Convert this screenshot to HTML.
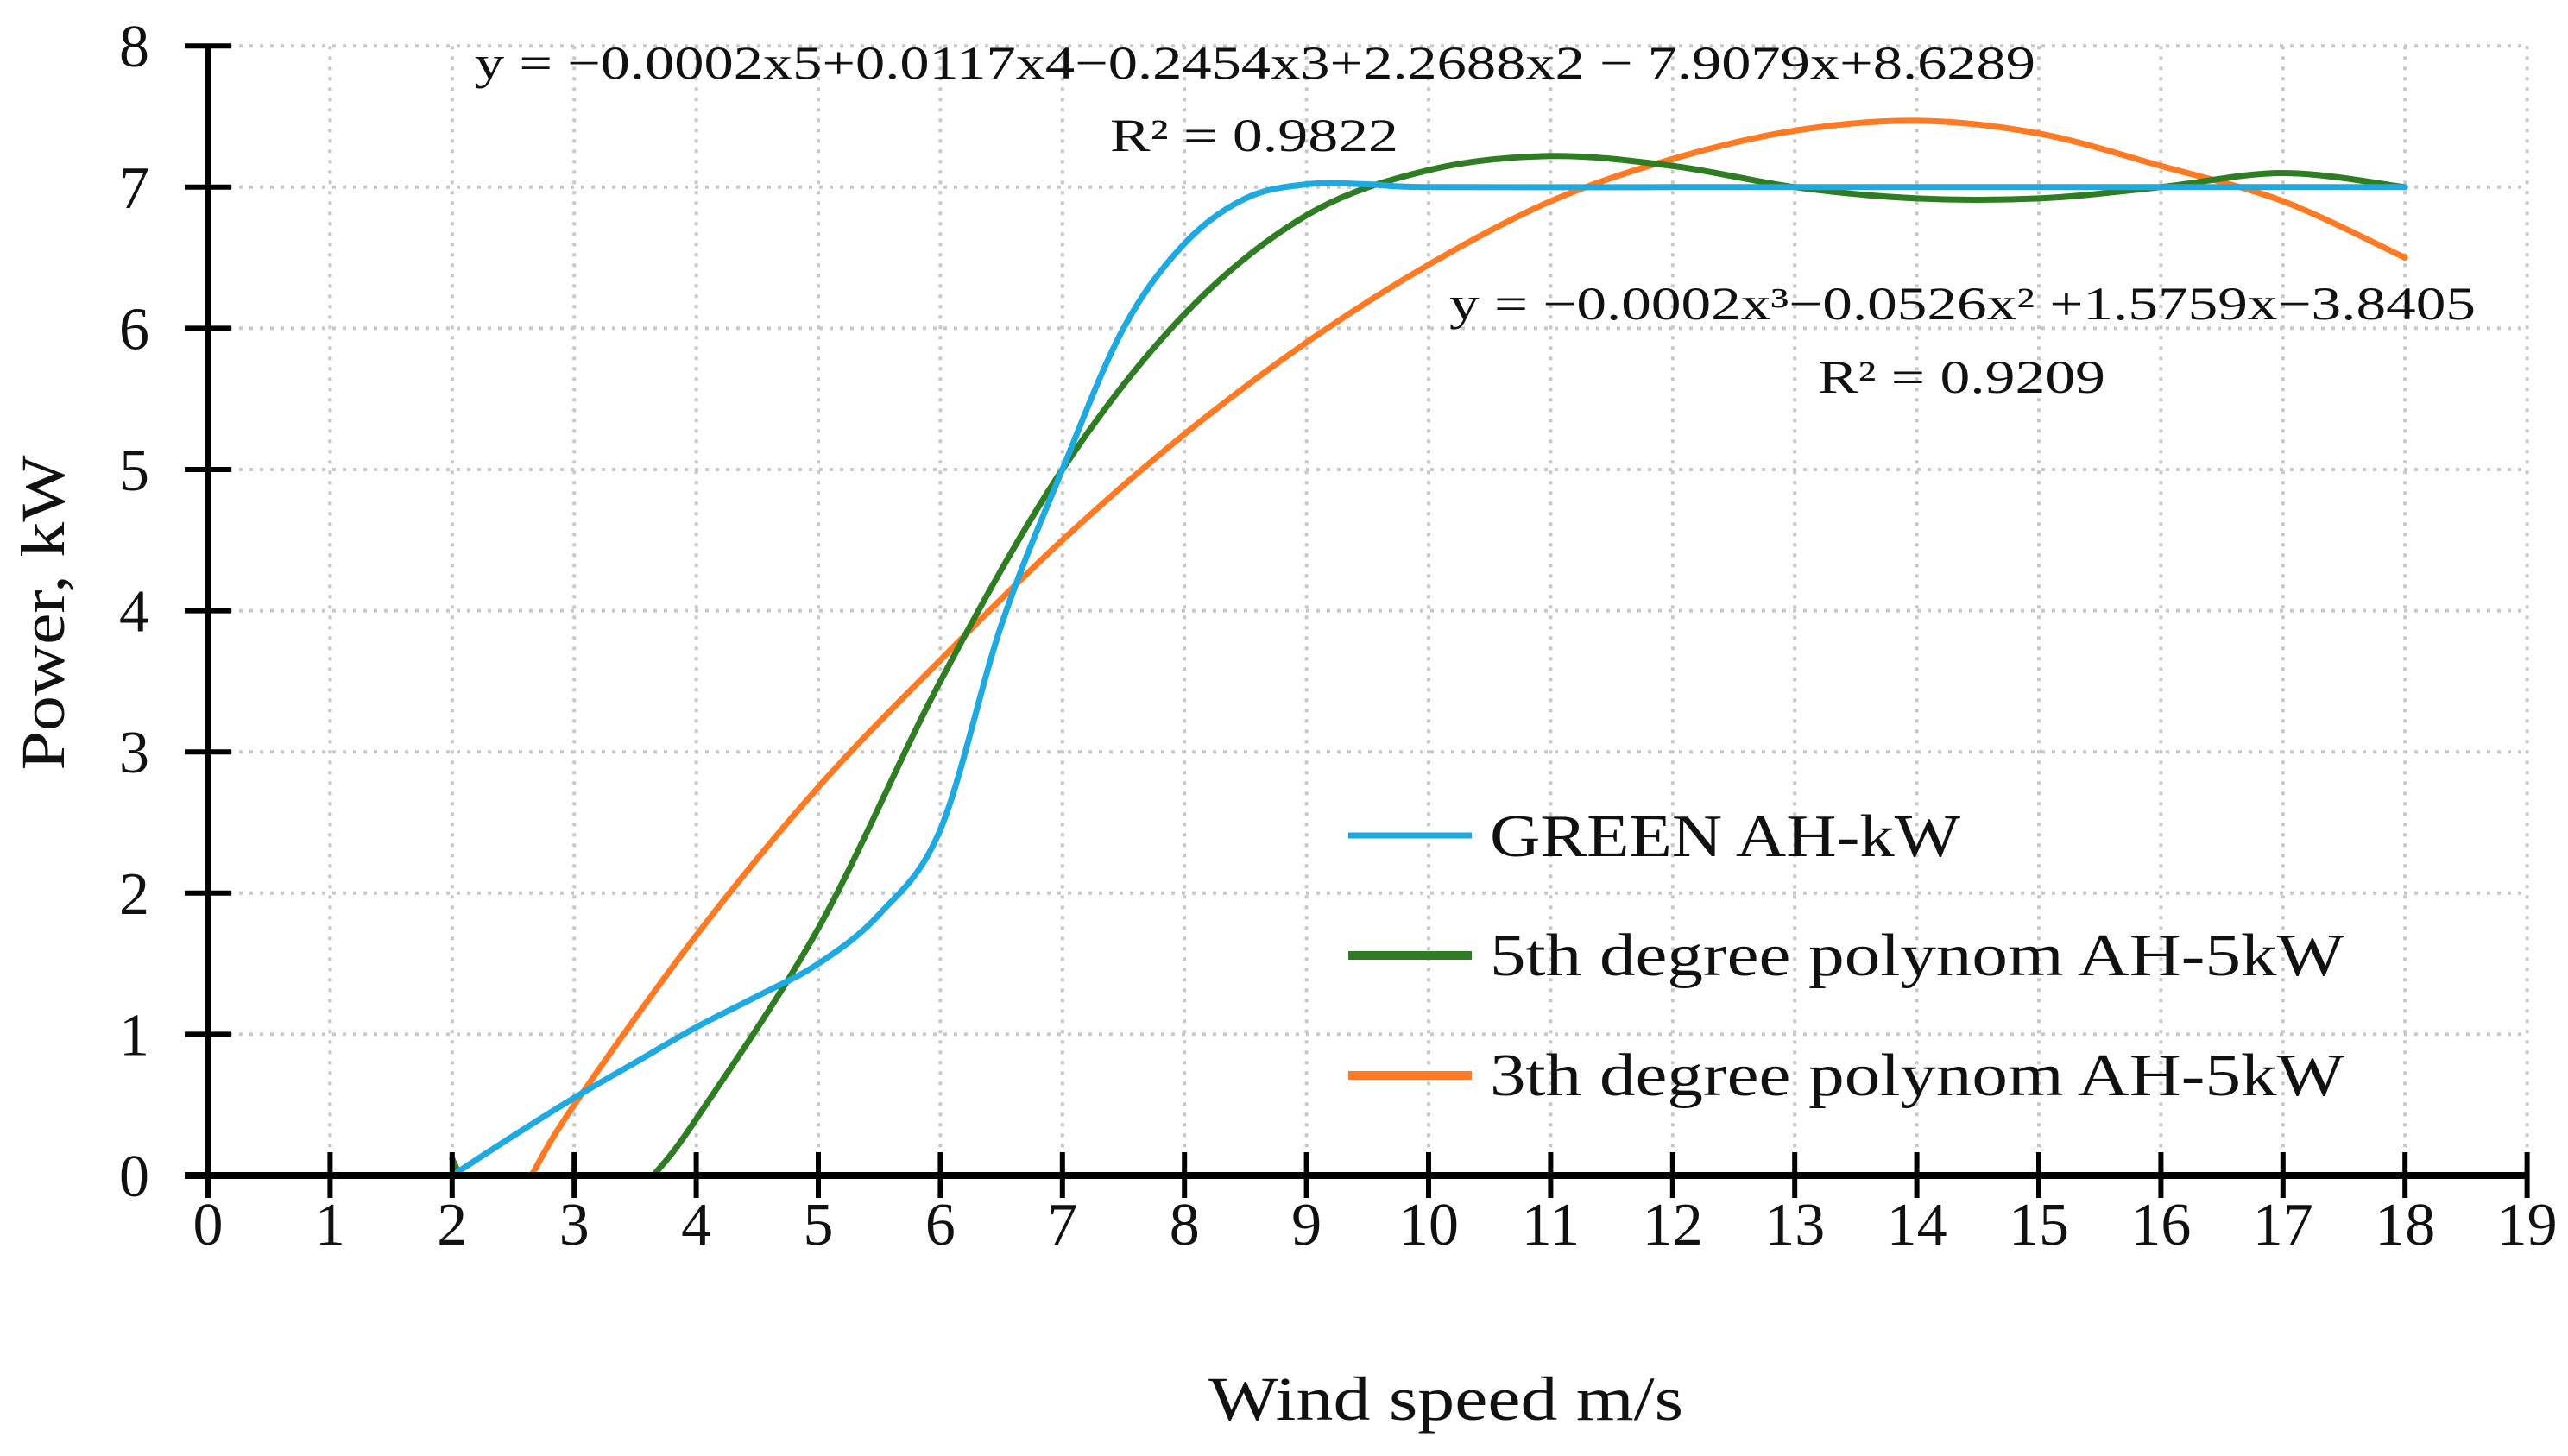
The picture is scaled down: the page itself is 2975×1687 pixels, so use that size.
<!DOCTYPE html>
<html><head><meta charset="utf-8"><style>
html,body{margin:0;padding:0;background:#fff;}
svg{display:block;}
text{font-family:"Liberation Serif",serif;fill:#111;}
</style></head><body>
<svg id="chart" width="2975" height="1687" viewBox="0 0 2975 1687" xmlns="http://www.w3.org/2000/svg">
<g id="grid"></g>
<g id="series"></g>
<g id="axes"></g>
<text x="550" y="91" font-size="54" textLength="1808" lengthAdjust="spacingAndGlyphs">y = −0.0002x5+0.0117x4−0.2454x3+2.2688x2 − 7.9079x+8.6289</text>
<text x="1286" y="175" font-size="54" textLength="334" lengthAdjust="spacingAndGlyphs">R² = 0.9822</text>
<text x="1679" y="370" font-size="54" textLength="1189" lengthAdjust="spacingAndGlyphs">y = −0.0002x³−0.0526x² +1.5759x−3.8405</text>
<text x="2106" y="455" font-size="54" textLength="333" lengthAdjust="spacingAndGlyphs">R² = 0.9209</text>
<text transform="translate(74,710) rotate(-90)" text-anchor="middle" font-size="72" textLength="365" lengthAdjust="spacingAndGlyphs">Power, kW</text>
<text x="1675" y="1645" text-anchor="middle" font-size="72" textLength="550" lengthAdjust="spacingAndGlyphs">Wind speed m/s</text>
<g>
<line x1="1562" y1="968" x2="1705" y2="968" stroke="#1FA9E1" stroke-width="7"/>
<text x="1726" y="992" font-size="70" textLength="545" lengthAdjust="spacingAndGlyphs">GREEN AH-kW</text>
<line x1="1562" y1="1107" x2="1705" y2="1107" stroke="#2E7D22" stroke-width="10"/>
<text x="1726" y="1130" font-size="70" textLength="990" lengthAdjust="spacingAndGlyphs">5th degree polynom AH-5kW</text>
<line x1="1562" y1="1246" x2="1705" y2="1246" stroke="#FF7A22" stroke-width="10"/>
<text x="1726" y="1269" font-size="70" textLength="990" lengthAdjust="spacingAndGlyphs">3th degree polynom AH-5kW</text>
</g>
</svg>
<script>
const xTicks = [0,1,2,3,4,5,6,7,8,9,10,11,12,13,14,15,16,17,18,19];
const yTicks = [0,1,2,3,4,5,6,7,8];
const greenX = [2,2.5,3,3.5,4,4.5,5,5.5,6,6.5,7,7.5,8,8.5,9,9.5,10,12,14,16,18];
const greenY = [0,0.28,0.55,0.8,1.05,1.27,1.5,1.85,2.45,3.9,5.0,6.0,6.6,6.92,7.02,7.02,7.0,7.0,7.0,7.0,7.0];
const poly5X = [3.65,4,5,6,7,8,9,10,11,12,13,14,15,16,17,18];
const poly5Y = [0,0.4,1.75,3.5,5.0,6.1,6.8,7.12,7.22,7.15,7.0,6.92,6.92,7.0,7.1,7.0];
const poly5TailX = [2,2.06];
const poly5TailY = [0.12,0];
const poly3X = [2.65,3,4,5,6,7,8,9,10,11,12,13,14,15,16,17,18];
const poly3Y = [0,0.5,1.7,2.75,3.65,4.5,5.25,5.9,6.45,6.9,7.2,7.4,7.47,7.38,7.15,6.9,6.5];

const X0=241, XU=141.4, Y0=1362, YU=163.6;
const sx = v => X0 + v*XU;
const sy = v => Y0 - v*YU;
const NS="http://www.w3.org/2000/svg";
const grid=document.getElementById('grid'), axes=document.getElementById('axes'), ser=document.getElementById('series');
function mk(tag, attrs, parent){const e=document.createElementNS(NS,tag);for(const k in attrs)e.setAttribute(k,attrs[k]);parent.appendChild(e);return e;}

yTicks.forEach(v=>{
  if(v>0){const g=mk('line',{x1:sx(0),x2:sx(19),y1:sy(v),y2:sy(v),stroke:'#c8c8c8','stroke-width':4,'stroke-dasharray':'4 8'},grid);
  
  }
  const t=mk('line',{x1:sx(0)-27,x2:sx(0)+27,y1:sy(v),y2:sy(v),stroke:'#000','stroke-width':6},axes);
  
  
  const l=mk('text',{x:sx(0)-68,y:sy(v)+24,'text-anchor':'end','font-size':70},axes);
  
  
  l.textContent=v;
});
xTicks.forEach(v=>{
  if(v>0){const g=mk('line',{x1:sx(v),x2:sx(v),y1:sy(8),y2:sy(0),stroke:'#c8c8c8','stroke-width':4,'stroke-dasharray':'4 8'},grid);
  
  }
  const t=mk('line',{x1:sx(v),x2:sx(v),y1:sy(0)-27,y2:sy(0)+26,stroke:'#000','stroke-width':6},axes);
  
  
  const l=mk('text',{x:sx(v),y:1442,'text-anchor':'middle','font-size':70},axes);
  
  
  l.textContent=v;
});
const ya=mk('line',{x1:sx(0),x2:sx(0),y1:sy(8),y2:sy(0),stroke:'#000','stroke-width':6},axes);


const xa=mk('line',{x1:sx(0)-27,x2:sx(19),y1:sy(0),y2:sy(0),stroke:'#000','stroke-width':8},axes);



function smoothPath(xs,ys){
  const p=xs.map((x,i)=>[sx(x),sy(ys[i])]);
  let d='M'+p[0][0]+','+p[0][1];
  for(let i=0;i<p.length-1;i++){
    const a=p[i-1]||p[i], b=p[i], c=p[i+1], e=p[i+2]||c;
    const c1=[b[0]+(c[0]-a[0])/6, b[1]+(c[1]-a[1])/6];
    const c2=[c[0]-(e[0]-b[0])/6, c[1]-(e[1]-b[1])/6];
    d+=' C'+c1[0]+','+c1[1]+' '+c2[0]+','+c2[1]+' '+c[0]+','+c[1];
  }
  return d;
}
const s3=mk('path',{d:smoothPath(poly3X,poly3Y),fill:'none',stroke:'#FF7A22','stroke-width':7,'stroke-linecap':'round'},ser);


const s5=mk('path',{d:smoothPath(poly5X,poly5Y),fill:'none',stroke:'#2E7D22','stroke-width':7,'stroke-linecap':'round'},ser);


const s5t=mk('path',{d:smoothPath(poly5TailX,poly5TailY),fill:'none',stroke:'#2E7D22','stroke-width':7,'stroke-linecap':'round'},ser);


const sg=mk('path',{d:smoothPath(greenX,greenY),fill:'none',stroke:'#1FA9E1','stroke-width':7,'stroke-linecap':'round'},ser);


</script>
</body></html>
